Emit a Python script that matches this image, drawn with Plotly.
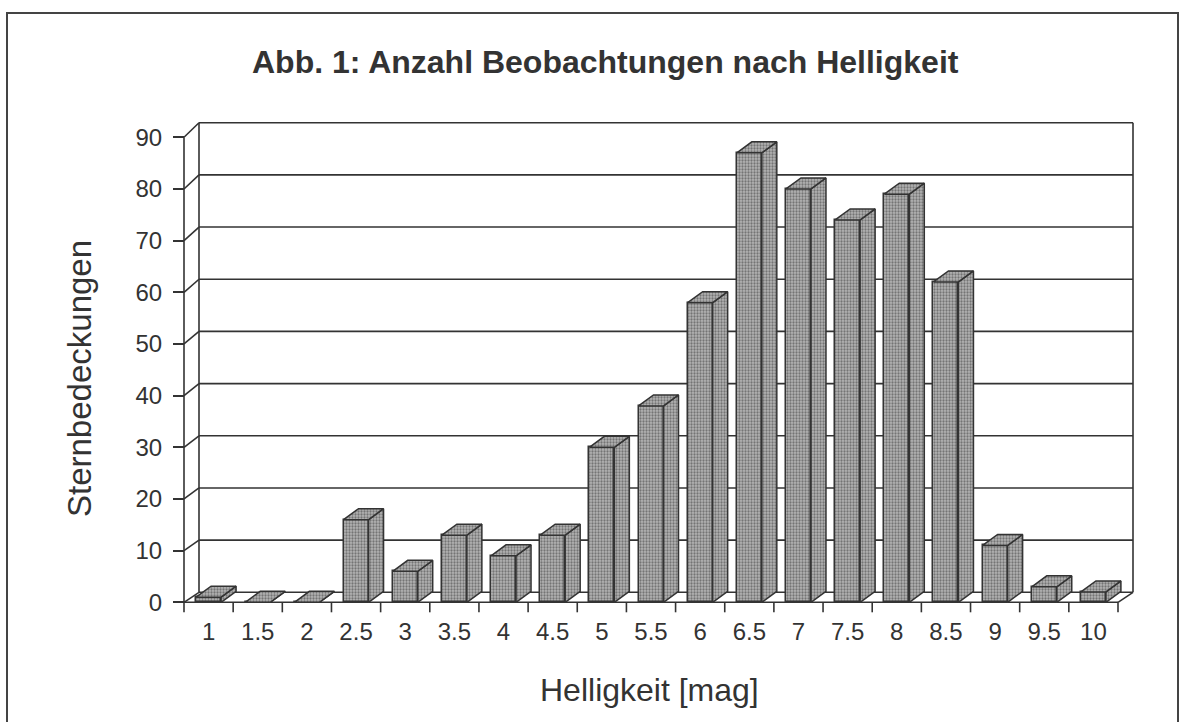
import plotly.graph_objects as go

# ---- data ----
categories = ["1", "1.5", "2", "2.5", "3", "3.5", "4", "4.5", "5", "5.5",
              "6", "6.5", "7", "7.5", "8", "8.5", "9", "9.5", "10"]
counts = [1, 0, 0, 16, 6, 13, 9, 13, 30, 38, 58, 87, 80, 74, 79, 62, 11, 3, 2]
y_ticks = [0, 10, 20, 30, 40, 50, 60, 70, 80, 90]

title_text = "Abb. 1: Anzahl Beobachtungen nach Helligkeit"
x_title = "Helligkeit [mag]"
y_title = "Sternbedeckungen"

# ---- geometry (pixels) ----
W, H = 1181, 722
X0, X1 = 184.0, 1118.0          # front floor left / right
Y0, Y90 = 602.3, 137.3          # front axis value 0 / 90
n = len(categories)
XW = (X1 - X0) / n               # px per category
YS = (Y0 - Y90) / 90.0           # px per unit
YMAX = 90

def ux(px):
    return (px - X0) / XW

def uy(py):
    return (Y0 - py) / YS

def px2paper_x(px):
    return px / W

def px2paper_y(py):
    return 1 - py / H

WALL_DX = 15.0 / XW
def wall_y(v):
    return v + (10.0 + 4.6 * v / 90.0) / YS

BAR_W = 25.0 / XW
BAR_DX = 15.0 / XW
BAR_DY = 11.0 / YS

LINE = "#333333"
TXT = "#333333"
FONT = "Liberation Sans, Arial, Helvetica, sans-serif"

fig = go.Figure()

shapes = []
def seg(x0, y0, x1, y1, w=1.6, color=LINE):
    shapes.append(dict(type="line", xref="x", yref="y", x0=x0, y0=y0, x1=x1, y1=y1,
                       line=dict(color=color, width=w), layer="below"))

# back wall gridlines + tick diagonals
for v in y_ticks:
    seg(WALL_DX, wall_y(v), n + WALL_DX, wall_y(v))
    seg(0, v, WALL_DX, wall_y(v))
# back wall verticals
seg(WALL_DX, wall_y(0), WALL_DX, wall_y(YMAX))
seg(n + WALL_DX, wall_y(0), n + WALL_DX, wall_y(YMAX))
# front axis + floor
seg(0, 0, 0, YMAX)
seg(0, 0, n, 0)
seg(n, 0, n + WALL_DX, wall_y(0))
# category boundary ticks
for k in range(n + 1):
    seg(k, 0, k, -10.0 / YS)

# outer frame
shapes.append(dict(type="rect", xref="paper", yref="paper",
                   x0=px2paper_x(7), x1=px2paper_x(1178),
                   y0=px2paper_y(735), y1=px2paper_y(13),
                   line=dict(color="#444", width=2), fillcolor="rgba(0,0,0,0)",
                   layer="below"))

pattern = dict(shape=".", bgcolor="#b4b4b4", fgcolor="#333333", size=3, solidity=0.45)

centers = [i + 0.5 for i in range(n)]

# front faces
fig.add_trace(go.Bar(
    x=centers, y=counts, width=BAR_W,
    marker=dict(color="#b4b4b4", pattern=pattern,
                line=dict(color=LINE, width=1.5)),
    hoverinfo="skip", showlegend=False))

# side and top faces
for c, v in zip(centers, counts):
    xl, xr = c - BAR_W / 2, c + BAR_W / 2
    side_x = [xr, xr + BAR_DX, xr + BAR_DX, xr, xr]
    side_y = [0, BAR_DY, v + BAR_DY, v, 0]
    top_x = [xl, xl + BAR_DX, xr + BAR_DX, xr, xl]
    top_y = [v, v + BAR_DY, v + BAR_DY, v, v]
    for xs, ys in ((side_x, side_y), (top_x, top_y)):
        fig.add_trace(go.Scatter(
            x=xs, y=ys, mode="lines", fill="toself",
            fillcolor="#b4b4b4", fillpattern=pattern,
            line=dict(color=LINE, width=1.5),
            hoverinfo="skip", showlegend=False))

fig.update_layout(
    width=W, height=H,
    margin=dict(l=0, r=0, t=0, b=0, pad=0),
    paper_bgcolor="white", plot_bgcolor="white",
    showlegend=False,
    bargap=0,
    shapes=shapes,
    xaxis=dict(range=[ux(0), ux(W)], domain=[0, 1], anchor="free",
               position=px2paper_y(Y0),
               tickmode="array", tickvals=centers, ticktext=categories,
               ticks="outside", ticklen=8, tickcolor="rgba(0,0,0,0)",
               showgrid=False, zeroline=False, showline=False,
               tickfont=dict(family=FONT, size=24, color=TXT),
               automargin=False, fixedrange=True),
    yaxis=dict(range=[uy(H), uy(0)], domain=[0, 1], anchor="free",
               position=px2paper_x(X0),
               tickmode="array", tickvals=y_ticks,
               ticks="outside", ticklen=11, tickwidth=1.6, tickcolor=LINE,
               ticklabelstandoff=6,
               showgrid=False, zeroline=False, showline=False,
               tickfont=dict(family=FONT, size=24, color=TXT),
               automargin=False, fixedrange=True),
    annotations=[
        dict(text="<b>" + title_text + "</b>", xref="paper", yref="paper",
             x=px2paper_x(605), y=px2paper_y(62), xanchor="center", yanchor="middle",
             showarrow=False, font=dict(family=FONT, size=32, color=TXT)),
        dict(text=x_title, xref="paper", yref="paper",
             x=px2paper_x(649), y=px2paper_y(690), xanchor="center", yanchor="middle",
             showarrow=False, font=dict(family=FONT, size=32, color=TXT)),
        dict(text=y_title, xref="paper", yref="paper", textangle=-90,
             x=px2paper_x(79), y=px2paper_y(379), xanchor="center", yanchor="middle",
             showarrow=False, font=dict(family=FONT, size=33, color=TXT)),
    ],
)

fig.write_html(
    "out.html",
    config={"displayModeBar": False},
    post_script="document.body.style.margin='0';document.body.style.overflow='hidden';",
)
